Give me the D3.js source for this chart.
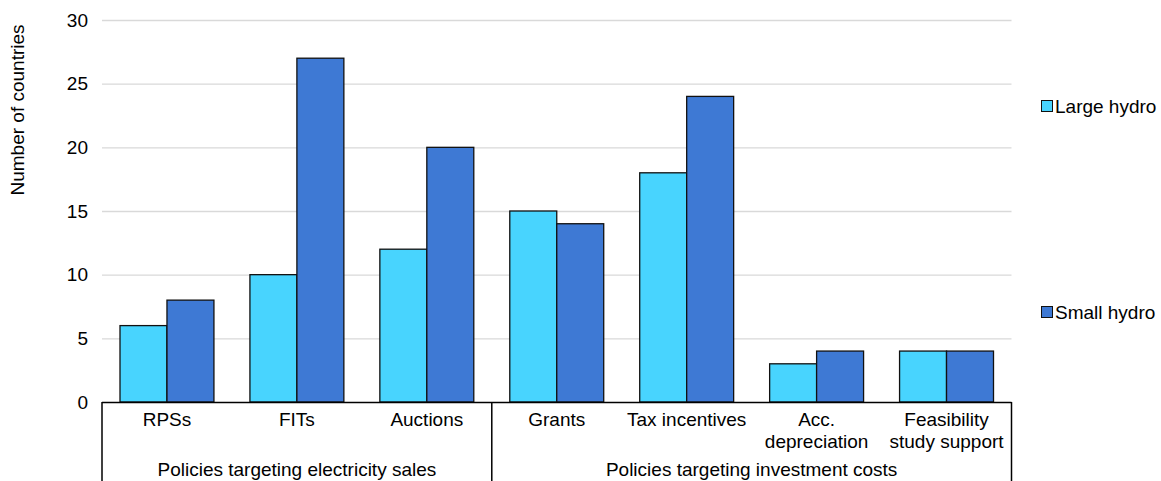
<!DOCTYPE html>
<html><head><meta charset="utf-8">
<script src="https://cdn.jsdelivr.net/npm/d3@7"></script>
<style>body{margin:0;background:#fff}svg{display:block;font-family:"Liberation Sans",Arial,sans-serif}</style>
</head><body><svg id="c" width="1161" height="481"></svg>
<script>
const categories = [["RPSs"],["FITs"],["Auctions"],["Grants"],["Tax incentives"],["Acc.","depreciation"],["Feasibility","study support"]];
const groups = [{name:"Policies targeting electricity sales", count:3},{name:"Policies targeting investment costs", count:4}];
const seriesNames = ["Large hydro","Small hydro"];
const largeHydro = [6,10,12,15,18,3,4];
const smallHydro = [8,27,20,14,24,4,4];
const yTicks = [0,5,10,15,20,25,30];
const colors = ["#48D4FE","#3E79D4"];

const FS = 19;
const svg = d3.select("#c");
const L=102, R=1011.5, T=20, B=402;
const x = d3.scaleBand().domain(d3.range(categories.length)).range([L,R]).paddingInner(0.277).paddingOuter(0.1385);
const y = d3.scaleLinear().domain([0,30]).range([B,T]);
const xs = d3.scaleBand().domain([0,1]).range([0,x.bandwidth()]);

// gridlines
svg.append("g").selectAll("line").data(yTicks.filter(d=>d>0)).join("line")
  .attr("x1",L).attr("x2",R).attr("y1",d=>y(d)+0.5).attr("y2",d=>y(d)+0.5)
  .attr("stroke","#d9d9d9").attr("stroke-width",1.3);

// y axis labels
const ya = d3.axisLeft(y).tickValues(yTicks).tickSize(0).tickPadding(14);
const yg = svg.append("g").attr("transform",`translate(${L},0)`).call(ya);
yg.select(".domain").remove();
yg.selectAll("text").attr("font-size",FS).attr("fill","#000").attr("font-family","Liberation Sans, Arial, sans-serif");

svg.append("text").attr("transform","translate(24,110) rotate(-90)").attr("text-anchor","middle")
  .attr("font-size",FS).text("Number of countries");

// bars
const series=[largeHydro,smallHydro];
series.forEach((vals,si)=>{
  svg.append("g").selectAll("rect").data(vals).join("rect")
    .attr("x",(d,i)=>x(i)+xs(si)).attr("width",xs.bandwidth())
    .attr("y",d=>y(d)).attr("height",d=>B-y(d))
    .attr("fill",colors[si]).attr("stroke","#111").attr("stroke-width",1.3);
});

// bottom axis
svg.append("line").attr("x1",L).attr("x2",R).attr("y1",B+0.5).attr("y2",B+0.5).attr("stroke","#000").attr("stroke-width",1.5);
const step = (R-L)/categories.length;
let acc=0; const bounds=[0];
groups.forEach(g=>{acc+=g.count;bounds.push(acc);});
svg.append("g").selectAll("line").data(bounds).join("line")
  .attr("x1",d=>L+d*step).attr("x2",d=>L+d*step).attr("y1",B).attr("y2",481)
  .attr("stroke","#000").attr("stroke-width",1.5);

// category labels
const cl = svg.append("g").selectAll("text").data(categories).join("text")
  .attr("x",(d,i)=>x(i)+x.bandwidth()/2).attr("y",426).attr("text-anchor","middle").attr("font-size",FS);
cl.each(function(d){
  const t=d3.select(this);
  d.forEach((s,k)=>t.append("tspan").attr("x",t.attr("x")).attr("dy",k?22:0).text(s));
});

// group labels
svg.append("g").selectAll("text").data(groups).join("text")
  .attr("x",(d,i)=>L+step*(bounds[i]+bounds[i+1])/2).attr("y",476).attr("text-anchor","middle").attr("font-size",FS)
  .text(d=>d.name);

// legend
const leg = svg.append("g").selectAll("g").data(seriesNames).join("g")
  .attr("transform",(d,i)=>`translate(1041,${i?312:106})`);
leg.append("rect").attr("x",0.5).attr("y",-5.5).attr("width",11).attr("height",11)
  .attr("fill",(d,i)=>colors[i]).attr("stroke","#111").attr("stroke-width",1);
leg.append("text").attr("x",14).attr("y",7).attr("font-size",FS).text(d=>d);
</script></body></html>
